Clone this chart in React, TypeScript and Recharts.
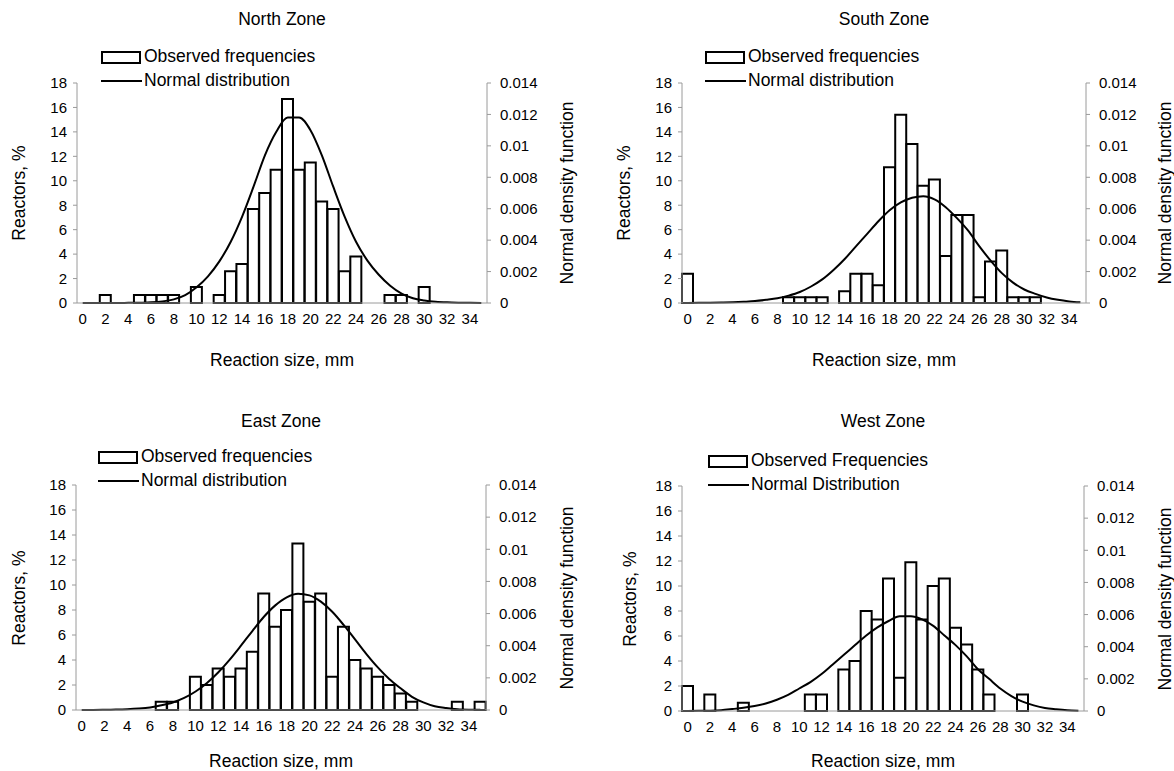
import React from "react";
import { ComposedChart, Bar, Line, XAxis, YAxis } from "recharts";

const FONT = '"Liberation Sans", Arial, Helvetica, sans-serif';
const AXIS_GREY = "#9a9a9a";

// reaction size categories, mm
const reactionSizes = [
  0, 1, 2, 3, 4, 5, 6, 7, 8, 9, 10, 11, 12, 13, 14, 15, 16, 17,
  18, 19, 20, 21, 22, 23, 24, 25, 26, 27, 28, 29, 30, 31, 32, 33, 34, 35,
];

const percentTicks = [0, 2, 4, 6, 8, 10, 12, 14, 16, 18];
const densityTicks = [0, 0.002, 0.004, 0.006, 0.008, 0.01, 0.012, 0.014];

// observed frequencies, % of reactors
const northObserved = [
  0, 0, 0.65, 0, 0, 0.65, 0.65, 0.65, 0.65, 0, 1.3, 0, 0.65, 2.6, 3.2, 7.7, 9.0, 10.9,
  16.7, 10.9, 11.5, 8.3, 7.7, 2.6, 3.8, 0, 0, 0.65, 0.65, 0, 1.3, 0, 0, 0, 0, 0,
];
const southObserved = [
  2.4, 0, 0, 0, 0, 0, 0, 0, 0, 0.48, 0.48, 0.48, 0.48, 0, 0.96, 2.4, 2.4, 1.45,
  11.1, 15.4, 13.0, 9.6, 10.1, 3.85, 7.2, 7.2, 0.48, 3.4, 4.3, 0.48, 0.48, 0.48, 0, 0, 0, 0,
];
const eastObserved = [
  0, 0, 0, 0, 0, 0, 0, 0.67, 0.67, 0, 2.67, 2.0, 3.33, 2.67, 3.33, 4.67, 9.33, 6.67,
  8.0, 13.33, 8.67, 9.33, 2.67, 6.67, 4.0, 3.33, 2.67, 2.0, 1.33, 0.67, 0, 0, 0, 0.67, 0, 0.67,
];
const westObserved = [
  2.0, 0, 1.33, 0, 0, 0.67, 0, 0, 0, 0, 0, 1.33, 1.33, 0, 3.33, 4.0, 8.0, 7.33,
  10.6, 2.67, 11.9, 7.33, 10.0, 10.6, 6.67, 5.33, 3.33, 1.33, 0, 0, 1.33, 0, 0, 0, 0, 0,
];

// fitted normal density
const northNormal = [
  0, 0, 0, 0, 0.00001, 0.00002, 0.00004, 0.0001, 0.00023, 0.0005, 0.001, 0.0017,
  0.00265, 0.0039, 0.0055, 0.0074, 0.0094, 0.0109, 0.0118, 0.0118, 0.011, 0.0094,
  0.0074, 0.0055, 0.0039, 0.0027, 0.0018, 0.0011, 0.0006, 0.0003, 0.00016, 0.00008,
  0.00004, 0.00002, 0.00001, 0,
];
const southNormal = [
  0, 0.00001, 0.00002, 0.00003, 0.00005, 0.00008, 0.00012, 0.0002, 0.0003, 0.00047,
  0.0007, 0.00105, 0.0015, 0.0021, 0.0028, 0.0036, 0.0044, 0.0052, 0.0059, 0.0064,
  0.0067, 0.0068, 0.0066, 0.0061, 0.0054, 0.0046, 0.0036, 0.0027, 0.0019, 0.0013,
  0.00086, 0.00058, 0.00035, 0.0002, 0.0001, 0.00004,
];
const eastNormal = [
  0.000002, 0.000005, 0.000012, 0.000024, 0.000048, 0.00009, 0.00016, 0.00029, 0.00047,
  0.00075, 0.00115, 0.00168, 0.00235, 0.00314, 0.00402, 0.00493, 0.0058, 0.00651,
  0.00701, 0.00723, 0.00713, 0.00674, 0.00611, 0.00529, 0.00439, 0.00348, 0.00265,
  0.00193, 0.00135, 0.00082, 0.00047, 0.00023, 0.00012, 0.00005, 0.00002, 0.00001,
];
const westNormal = [
  0, 0.00001, 0.00002, 0.00005, 0.00012, 0.0002, 0.00031, 0.00047, 0.0007, 0.001,
  0.0014, 0.0018, 0.0023, 0.0029, 0.0035, 0.0041, 0.0047, 0.0052, 0.0056, 0.0059,
  0.0059, 0.0057, 0.0053, 0.0047, 0.0041, 0.0034, 0.0026, 0.002, 0.0014, 0.00093,
  0.00058, 0.00035, 0.00019, 0.00011, 0.00005, 0.00002,
];

const LEFT_W = 77;
const RIGHT_W = 80;
const TOP_M = 83;
const X_H = 97;

const textStyle: React.CSSProperties = {
  position: "absolute",
  fontFamily: FONT,
  fontSize: 17.5,
  color: "#000",
  whiteSpace: "nowrap",
  lineHeight: 1,
};

function Centered({ x, y, children, rotate }: { x: number; y: number; children: React.ReactNode; rotate?: boolean }) {
  return (
    <div
      style={{
        ...textStyle,
        left: x,
        top: y,
        transform: `translate(-50%, -50%)${rotate ? " rotate(-90deg)" : ""}`,
      }}
    >
      {children}
    </div>
  );
}

function LegendBox({ x, y, obsLabel, normLabel }: { x: number; y: number; obsLabel: string; normLabel: string }) {
  return (
    <>
      <div style={{ position: "absolute", left: x, top: y - 6, width: 36, height: 9, border: "2px solid #000", background: "#fff" }} />
      <div style={{ ...textStyle, left: x + 43, top: y - 9 }}>{obsLabel}</div>
      <div style={{ position: "absolute", left: x, top: y + 23, width: 41, height: 2, background: "#000" }} />
      <div style={{ ...textStyle, left: x + 43, top: y + 15 }}>{normLabel}</div>
    </>
  );
}

interface PanelProps {
  title: string;
  observed: number[];
  normal: number[];
  obsLabel: string;
  normLabel: string;
  plotLeft: number;
  plotTop: number;
  plotW: number;
  plotH: number;
  legendX: number;
  legendY: number;
  titleY: number;
  xTitleY: number;
  leftLabelX: number;
  rightLabelX: number;
}

function ZonePanel(p: PanelProps) {
  const data = reactionSizes.map((s, i) => ({ size: s, obs: p.observed[i], dens: p.normal[i] }));
  const width = LEFT_W + p.plotW + RIGHT_W;
  const height = TOP_M + p.plotH + X_H;
  const cx = p.plotLeft + p.plotW / 2;
  const cy = p.plotTop + p.plotH / 2;
  const tick = { fill: "#000", fontSize: 15, fontFamily: FONT };

  return (
    <>
      <div style={{ position: "absolute", left: p.plotLeft - LEFT_W, top: p.plotTop - TOP_M }}>
        <ComposedChart
          width={width}
          height={height}
          data={data}
          margin={{ top: TOP_M, right: 0, bottom: 0, left: 0 }}
          barCategoryGap={0}
          barGap={0}
        >
          <XAxis
            dataKey="size"
            type="category"
            interval={1}
            height={X_H}
            tickLine={false}
            tickMargin={4}
            axisLine={{ stroke: AXIS_GREY }}
            tick={tick}
          />
          <YAxis
            yAxisId="left"
            width={LEFT_W}
            domain={[0, 18]}
            ticks={percentTicks}
            interval={0}
            tickSize={4}
            tickMargin={6}
            tickLine={{ stroke: AXIS_GREY }}
            axisLine={{ stroke: AXIS_GREY }}
            tick={tick}
          />
          <YAxis
            yAxisId="right"
            orientation="right"
            width={RIGHT_W}
            domain={[0, 0.014]}
            ticks={densityTicks}
            interval={0}
            tickSize={4}
            tickMargin={9}
            tickLine={{ stroke: AXIS_GREY }}
            axisLine={{ stroke: AXIS_GREY }}
            tick={tick}
          />
          <Bar yAxisId="left" dataKey="obs" fill="#fff" stroke="#000" strokeWidth={2} isAnimationActive={false} />
          <Line
            yAxisId="right"
            dataKey="dens"
            type="monotone"
            stroke="#000"
            strokeWidth={2}
            dot={false}
            activeDot={false}
            isAnimationActive={false}
          />
        </ComposedChart>
      </div>
      <Centered x={cx} y={p.titleY}>{p.title}</Centered>
      <LegendBox x={p.legendX} y={p.legendY} obsLabel={p.obsLabel} normLabel={p.normLabel} />
      <Centered x={cx} y={p.xTitleY}>Reaction size, mm</Centered>
      <Centered x={p.leftLabelX} y={cy} rotate>Reactors, %</Centered>
      <Centered x={p.rightLabelX} y={cy} rotate>Normal density function</Centered>
    </>
  );
}

export default function App() {
  return (
    <div
      style={{
        position: "absolute",
        left: 0,
        top: 0,
        width: 1174,
        height: 771,
        overflow: "hidden",
        background: "#fff",
        fontFamily: FONT,
      }}
    >
      <ZonePanel
        title="North Zone"
        observed={northObserved}
        normal={northNormal}
        obsLabel="Observed frequencies"
        normLabel="Normal distribution"
        plotLeft={77}
        plotTop={83}
        plotW={410}
        plotH={220}
        legendX={101}
        legendY={57}
        titleY={20}
        xTitleY={361}
        leftLabelX={20}
        rightLabelX={568}
      />
      <ZonePanel
        title="South Zone"
        observed={southObserved}
        normal={southNormal}
        obsLabel="Observed frequencies"
        normLabel="Normal distribution"
        plotLeft={682}
        plotTop={83}
        plotW={404}
        plotH={220}
        legendX={705}
        legendY={57}
        titleY={20}
        xTitleY={361}
        leftLabelX={625}
        rightLabelX={1166}
      />
      <ZonePanel
        title="East Zone"
        observed={eastObserved}
        normal={eastNormal}
        obsLabel="Observed frequencies"
        normLabel="Normal distribution"
        plotLeft={76}
        plotTop={485}
        plotW={410}
        plotH={225}
        legendX={98}
        legendY={457}
        titleY={422}
        xTitleY={762}
        leftLabelX={20}
        rightLabelX={568}
      />
      <ZonePanel
        title="West Zone"
        observed={westObserved}
        normal={westNormal}
        obsLabel="Observed Frequencies"
        normLabel="Normal Distribution"
        plotLeft={682}
        plotTop={486}
        plotW={402}
        plotH={225}
        legendX={708}
        legendY={461}
        titleY={422}
        xTitleY={762}
        leftLabelX={631}
        rightLabelX={1166}
      />
    </div>
  );
}
